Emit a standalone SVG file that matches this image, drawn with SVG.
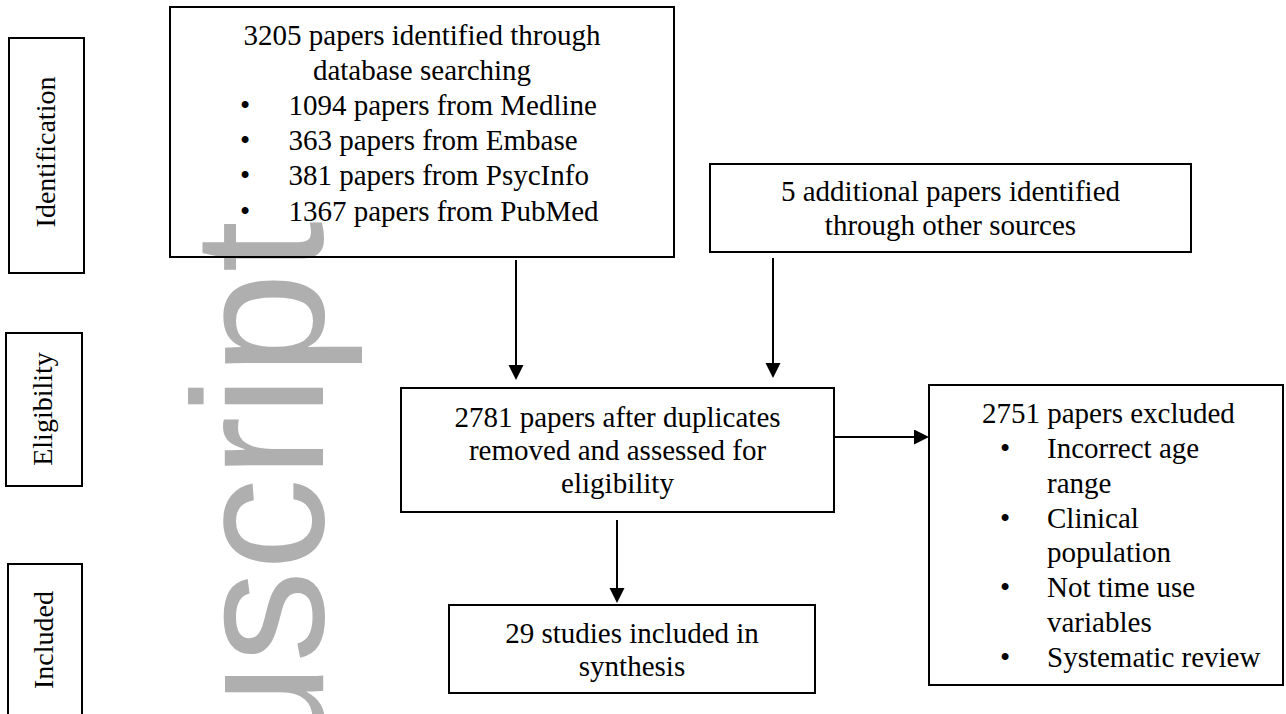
<svg xmlns="http://www.w3.org/2000/svg" width="1286" height="714" viewBox="0 0 1286 714">
  <style>
    .box { fill: none; stroke: #000; stroke-width: 2; }
    .t { font-family: "Liberation Serif", "Times New Roman", serif; font-size: 29px; fill: #000; }
    .side { font-family: "Liberation Serif", "Times New Roman", serif; font-size: 28px; fill: #000; text-anchor: middle; }
    .c { text-anchor: middle; }
    .conn { stroke: #000; stroke-width: 2; fill: none; marker-end: url(#arr); }
    .wm { font-family: "Liberation Sans", Arial, sans-serif; font-size: 185px; fill: #afafaf; }
  </style>
  <defs>
    <marker id="arr" markerUnits="userSpaceOnUse" markerWidth="16" markerHeight="16" refX="7" refY="7.5" orient="auto">
      <path d="M0,0 L15,7.5 L0,15 z" fill="#000"/>
    </marker>
  </defs>
  <rect width="1286" height="714" fill="#fff"/>

  <!-- watermark -->
  <text class="wm" transform="translate(323,766) rotate(-90)">uscript</text>

  <!-- side labels -->
  <g id="stage-identification">
    <rect class="box" x="9" y="38" width="75" height="235"/>
    <text class="side" transform="translate(55,152) rotate(-90)">Identification</text>
  </g>
  <g id="stage-eligibility">
    <rect class="box" x="6" y="333" width="76" height="153"/>
    <text class="side" transform="translate(52,409) rotate(-90)">Eligibility</text>
  </g>
  <g id="stage-included">
    <rect class="box" x="8" y="564" width="74" height="160"/>
    <text class="side" transform="translate(53,640) rotate(-90)">Included</text>
  </g>

  <!-- main nodes -->
  <g id="node-database">
    <rect class="box" x="170" y="7" width="504" height="250"/>
    <text class="t c" x="422" y="45">3205 papers identified through</text>
    <text class="t c" x="422" y="80">database searching</text>
    <text class="t c" x="245" y="115">•</text>
    <text class="t" x="288.5" y="115">1094 papers from Medline</text>
    <text class="t c" x="245" y="150">•</text>
    <text class="t" x="288.5" y="150">363 papers from Embase</text>
    <text class="t c" x="245" y="185">•</text>
    <text class="t" x="288.5" y="185">381 papers from PsycInfo</text>
    <text class="t c" x="245" y="221">•</text>
    <text class="t" x="288.5" y="221">1367 papers from PubMed</text>
  </g>

  <g id="node-other">
    <rect class="box" x="710" y="164" width="481" height="88"/>
    <text class="t c" x="950.5" y="201">5 additional papers identified</text>
    <text class="t c" x="950.5" y="235">through other sources</text>
  </g>

  <g id="node-screened">
    <rect class="box" x="401" y="388" width="433" height="124"/>
    <text class="t c" x="617.5" y="427">2781 papers after duplicates</text>
    <text class="t c" x="617.5" y="460">removed and assessed for</text>
    <text class="t c" x="617.5" y="493">eligibility</text>
  </g>

  <g id="node-included">
    <rect class="box" x="449" y="605" width="366" height="88"/>
    <text class="t c" x="632" y="643">29 studies included in</text>
    <text class="t c" x="632" y="676">synthesis</text>
  </g>

  <g id="node-excluded">
    <rect class="box" x="929" y="385" width="354" height="300"/>
    <text class="t" x="982" y="423">2751 papers excluded</text>
    <text class="t c" x="1005" y="458">•</text>
    <text class="t" x="1047" y="458">Incorrect age</text>
    <text class="t" x="1047" y="493">range</text>
    <text class="t c" x="1005" y="528">•</text>
    <text class="t" x="1047" y="528">Clinical</text>
    <text class="t" x="1047" y="562">population</text>
    <text class="t c" x="1005" y="597">•</text>
    <text class="t" x="1047" y="597">Not time use</text>
    <text class="t" x="1047" y="632">variables</text>
    <text class="t c" x="1005" y="667">•</text>
    <text class="t" x="1047" y="667">Systematic review</text>
  </g>

  <!-- connectors -->
  <g id="connectors">
    <line class="conn" x1="516" y1="260" x2="516" y2="372"/>
    <line class="conn" x1="773" y1="258" x2="773" y2="370"/>
    <line class="conn" x1="834" y1="437" x2="921" y2="437"/>
    <line class="conn" x1="617" y1="520" x2="617" y2="595"/>
  </g>
</svg>
